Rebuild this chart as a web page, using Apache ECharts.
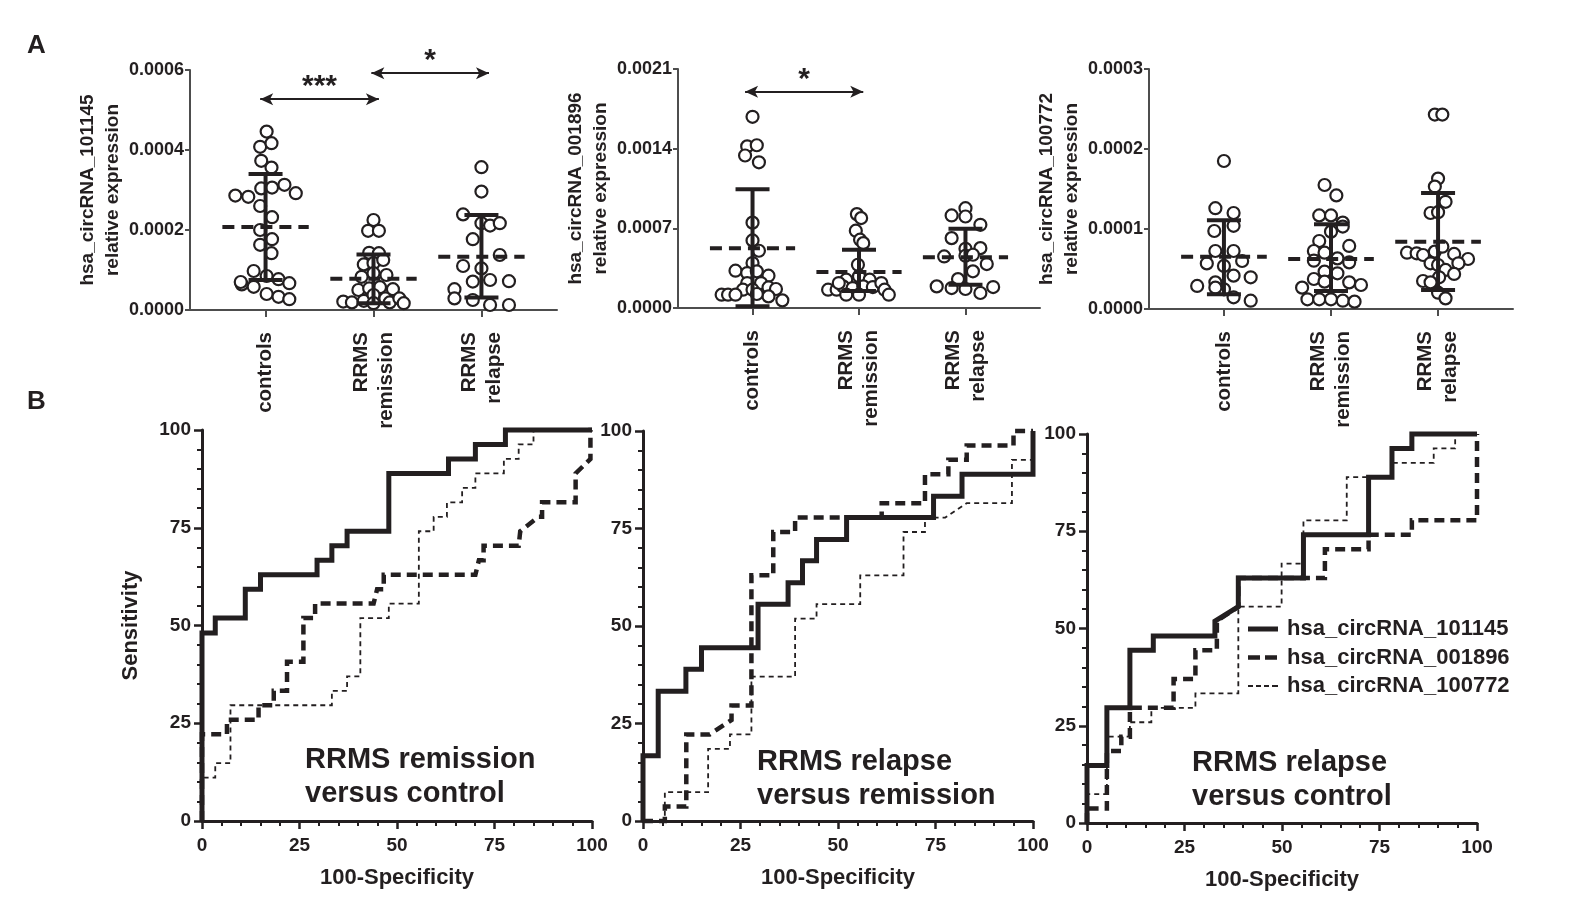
<!DOCTYPE html>
<html>
<head>
<meta charset="utf-8">
<script src="https://cdn.jsdelivr.net/npm/echarts@6/dist/echarts.min.js"></script>
<style>
  html, body { margin: 0; padding: 0; background: #fff; }
  #chart { width: 1594px; height: 897px; }
</style>
</head>
<body>
<div id="chart"></div>
<script>
// ---- data ----
const groupLabels = ['controls', 'RRMS\nremission', 'RRMS\nrelapse'];
const circNames = ['hsa_circRNA_101145', 'hsa_circRNA_001896', 'hsa_circRNA_100772'];

// scatter points: [jitter around the group, relative expression]
const c101145Controls = [[0.01,0.000446],[-0.05,0.000408],[0.055,0.000417],[-0.04,0.000373],[0.055,0.000356],
  [-0.28,0.000286],[-0.16,0.000283],[-0.04,0.000304],[0.06,0.000306],[0.175,0.000313],[0.28,0.000292],
  [-0.05,0.00026],[0.06,0.000232],[-0.05,0.0002],[0.06,0.000177],[-0.05,0.000163],[0.055,0.000142],
  [-0.11,0.0000975],[0.01,0.000085],[-0.22,0.000064],[-0.23,0.00007],[-0.11,0.000058],[0.12,0.000077],
  [0.22,0.000067],[0.01,0.00004],[0.12,0.000033],[0.22,0.000027]];
const c101145Remission = [[0,0.000225],[-0.05,0.000198],[0.05,0.000198],[-0.04,0.000143],[0.05,0.000142],
  [-0.09,0.000114],[0,0.000117],[0.09,0.000125],[-0.11,0.000083],[0,0.000092],[0.12,0.0000875],
  [-0.14,0.00005],[-0.04,0.000054],[0.06,0.000057],[0.18,0.000052],[-0.28,0.000021],[-0.2,0.000019],
  [-0.09,0.000023],[0,0.0000375],[0.11,0.000029],[0.15,0.000019],[0.24,0.000029],[0.28,0.000017],[0,0.000017]];
const c101145Relapse = [[0,0.000357],[0,0.000296],[-0.17,0.000239],[0,0.000217],[0.08,0.000211],[0.17,0.000217],
  [-0.08,0.000177],[0.17,0.0001375],[-0.17,0.00011],[0,0.000104],[-0.08,0.000071],[0.08,0.000075],
  [0.255,0.000072],[-0.25,0.000052],[-0.25,0.000029],[-0.08,0.000025],[0.08,0.0000125],[0.255,0.0000125]];

const c001896Controls = [[0,0.00168],[-0.05,0.00142],[0.04,0.00143],[-0.07,0.00134],[0.06,0.00128],[0,0.00075],
  [0,0.000594],[0.06,0.000503],[0,0.000395],[-0.16,0.000328],[-0.05,0.000307],[0.04,0.000322],[0.15,0.000284],
  [-0.05,0.000219],[0.08,0.000219],[-0.09,0.000161],[-0.29,0.000117],[-0.23,0.000117],[-0.16,0.000117],
  [0,0.000161],[0.15,0.000181],[0.22,0.000167],[0.15,0.000102],[0.28,0.000067],[0.04,0.000123]];
const c001896Remission = [[-0.02,0.000825],[0.02,0.00079],[-0.03,0.000679],[0.01,0.0006],[0.04,0.00057],
  [-0.01,0.00038],[-0.12,0.000249],[0,0.000278],[0.1,0.000249],[-0.29,0.000161],[-0.21,0.000161],
  [-0.15,0.00019],[-0.06,0.000175],[0.04,0.00019],[0.13,0.000184],[0.21,0.000219],[0.24,0.000161],
  [0.28,0.000117],[-0.19,0.000219],[-0.12,0.000117],[0,0.000117]];
const c001896Relapse = [[-0.13,0.000813],[0,0.000877],[0,0.000804],[0.14,0.000731],[-0.13,0.000614],[0,0.00052],
  [-0.2,0.000453],[0,0.000459],[0.14,0.000526],[0.07,0.000468],[0.2,0.000386],[0.07,0.000322],[-0.07,0.000254],
  [-0.27,0.00019],[-0.13,0.000175],[0,0.000167],[0.14,0.000132],[0.26,0.000184]];

const c100772Controls = [[0,0.000185],[-0.08,0.000126],[0.09,0.00012],[-0.09,0.0000975],[0.09,0.000104],
  [-0.08,0.0000725],[0.09,0.0000725],[-0.16,0.000057],[0,0.0000538],[0.17,0.00006],[0.09,0.0000417],
  [0.25,0.0000396],[-0.25,0.0000288],[-0.08,0.0000333],[0,0.0000246],[0.09,0.0000146],[0.25,0.0000104],
  [-0.08,0.0000267]];
const c100772Remission = [[-0.06,0.000155],[0.05,0.000142],[-0.11,0.000117],[0,0.000117],[0.11,0.000108],
  [0.11,0.000103],[0,0.0000967],[-0.11,0.000085],[0.17,0.0000788],[-0.16,0.0000725],[-0.06,0.0000704],
  [0.06,0.0000633],[0.17,0.0000583],[-0.16,0.0000604],[-0.06,0.0000467],[0.06,0.0000446],[-0.16,0.0000375],
  [-0.06,0.0000342],[0.17,0.0000333],[0.28,0.00003],[-0.27,0.0000267],[-0.22,0.0000121],[-0.11,0.0000121],
  [0,0.0000121],[0.11,0.0000104],[0.22,0.0000092]];
const c100772Relapse = [[-0.03,0.000243],[0.04,0.000243],[0,0.000163],[-0.03,0.000153],[0.07,0.000134],
  [-0.07,0.00012],[0,0.000121],[-0.29,0.0000704],[-0.2,0.0000696],[-0.14,0.0000675],[-0.03,0.0000717],
  [0.04,0.0000779],[0.15,0.0000688],[0.28,0.0000625],[-0.07,0.0000571],[0,0.000055],[0.07,0.0000488],
  [0.19,0.0000571],[0.15,0.0000438],[0.01,0.0000396],[-0.14,0.000035],[-0.07,0.0000333],[0,0.0000204],
  [0.07,0.0000133]];

// mean, mean-SD, mean+SD per group
const stats101145 = [[0.0002075,0.000075,0.00034],[0.000078,0.000017,0.000139],[0.000133,0.000031,0.0002375]];
const stats001896 = [[0.000526,0.000015,0.001044],[0.000316,0.00015,0.000512],[0.000447,0.000205,0.000696]];
const stats100772 = [[0.0000654,0.0000183,0.000111],[0.0000625,0.0000225,0.000106],[0.0000842,0.0000238,0.000145]];

// axis tops / tick steps of panel A
const topMax = [0.0006, 0.0021, 0.0003];
const topStep = [0.0002, 0.0007, 0.0001];

// ROC curves: [100-specificity, sensitivity]
const remCtl101145 = [[0,0],[0,48.1],[3.4,48.1],[3.4,51.9],[11.1,51.9],[11.1,59.3],[15,59.3],[15,63],[29.5,63],
  [29.5,66.7],[33.3,66.7],[33.3,70.4],[37.2,70.4],[37.2,74.1],[47.9,74.1],[47.9,88.9],[63.2,88.9],[63.2,92.6],
  [70.1,92.6],[70.1,96.3],[77.8,96.3],[77.8,100],[100,100]];
const remCtl001896 = [[0,0],[0,22.2],[6.4,22.2],[6.4,25.9],[14.5,25.9],[14.5,29.6],[18.4,29.6],[18.4,33.3],
  [21.8,33.3],[21.8,40.7],[26,40.7],[26,51.9],[29,51.9],[29,55.6],[44,55.6],[44.9,59.3],[46.6,59.3],[46.6,63],
  [70.1,63],[71,66.7],[72.2,66.7],[72.2,70.4],[81.2,70.4],[81.6,74.1],[86.3,77.8],[87.2,77.8],[87.2,81.5],
  [95.8,81.5],[95.8,88.9],[99.6,92.6],[99.6,100],[100,100]];
const remCtl100772 = [[0,0],[0,11.1],[3.4,11.1],[3.4,14.8],[7.3,14.8],[7.3,29.6],[33.3,29.6],[33.3,33.3],
  [37.2,33.3],[37.2,37],[40.6,37],[40.6,51.9],[47.9,51.9],[47.9,55.6],[55.6,55.6],[55.6,74.1],[59.4,74.1],
  [59.4,77.8],[62.8,77.8],[62.8,81.5],[66.7,81.5],[66.7,85.2],[70.1,85.2],[70.1,88.9],[77.4,88.9],[77.4,92.6],
  [81.2,92.6],[81.2,96.3],[85,96.3],[85,100],[100,100]];

const relRem101145 = [[0,0],[0,16.7],[3.9,16.7],[3.9,33.3],[11,33.3],[11,38.9],[15,38.9],[15,44.4],[29.5,44.4],
  [29.5,55.6],[37.2,55.6],[37.2,61.1],[40.9,61.1],[40.9,66.7],[44.5,66.7],[44.5,72.2],[52.2,72.2],[52.2,77.8],
  [74.5,77.8],[74.5,83.3],[81.8,83.3],[81.8,88.9],[100,88.9],[100,100]];
const relRem001896 = [[0,0],[5.6,0],[5.6,3.7],[11.1,3.7],[11.1,22.2],[17.1,22.2],[22.7,25.9],[22.7,29.6],
  [27.8,29.6],[27.8,63],[33.4,63],[33.4,74.1],[39,74.1],[39,77.8],[61.2,77.8],[61.2,81.5],[72.3,81.5],
  [72.3,88.9],[78.3,88.9],[78.3,92.6],[83,92.6],[83,96.3],[95,96.3],[95,100],[100,100]];
const relRem100772 = [[0,0],[5.6,0],[5.6,7.4],[16.7,7.4],[16.7,18.5],[22.3,18.5],[22.3,22.2],[27.8,22.2],
  [27.8,37],[39,37],[39,51.9],[44.5,51.9],[44.5,55.6],[55.7,55.6],[55.7,63],[66.8,63],[66.8,74.1],[72.3,74.1],
  [72.3,77.8],[77.5,77.8],[83,81.5],[94.6,81.5],[94.6,92.6],[100,92.6],[100,100]];

const relCtl101145 = [[0,0],[0,14.8],[5.1,14.8],[5.1,29.6],[11,29.6],[11,44.4],[17,44.4],[17,48.1],[32.8,48.1],
  [32.8,51.9],[38.8,55.6],[38.8,63],[55.5,63],[55.5,74.1],[72.2,74.1],[72.2,88.9],[78.2,88.9],[78.2,96.3],
  [83.3,96.3],[83.3,100],[100,100]];
const relCtl001896 = [[0,0],[0,3.7],[5.1,3.7],[5.1,18.5],[8.8,18.5],[8.8,22.2],[11,22.2],[11,29.6],[22.2,29.6],
  [22.2,37],[27.8,37],[27.8,44.4],[33.3,44.4],[33.3,51.9],[38.8,55.6],[38.8,63],[61,63],[61,70.4],[72.2,70.4],
  [72.2,74.1],[83.3,74.1],[83.3,77.8],[100,77.8],[100,100]];
const relCtl100772 = [[0,0],[0,7.4],[5.1,7.4],[5.1,22.2],[11,22.2],[11,25.9],[16.5,25.9],[16.5,29.6],[27.8,29.6],
  [27.8,33.3],[38.8,33.3],[38.8,55.6],[49.9,55.6],[49.9,66.7],[55.5,66.7],[55.5,77.8],[66.6,77.8],[66.6,88.9],
  [78.2,88.9],[78.2,92.6],[88.9,92.6],[88.9,96.3],[94.4,96.3],[94.4,100],[100,100]];

const panelTitles = ['RRMS remission\nversus control', 'RRMS relapse\nversus remission', 'RRMS relapse\nversus control'];

// ---- styling ----
const ink = '#231f20';
const font = "'Liberation Sans', Arial, sans-serif";

const topGrids = [
  { left: 190, top: 70, width: 367, height: 240 },
  { left: 678, top: 69, width: 362, height: 239 },
  { left: 1149, top: 69, width: 364, height: 240 }
];
const bottomGrids = [
  { left: 202, top: 430, width: 390, height: 391 },
  { left: 643, top: 431, width: 390, height: 390 },
  { left: 1087, top: 434, width: 390, height: 389 }
];

const scatterSets = [
  [c101145Controls, c101145Remission, c101145Relapse],
  [c001896Controls, c001896Remission, c001896Relapse],
  [c100772Controls, c100772Remission, c100772Relapse]
];
const statSets = [stats101145, stats001896, stats100772];
const rocSets = [
  [remCtl101145, remCtl001896, remCtl100772],
  [relRem101145, relRem001896, relRem100772],
  [relCtl101145, relCtl001896, relCtl100772]
];
const rocStyles = [
  { width: 5, type: 'solid' },
  { width: 4.5, type: [10, 6] },
  { width: 1.8, type: [5, 4] }
];
// legend keys drawn as filled paths (30 x 12 box, corner specks fix the box)
const box = 'M0,0h0.01v0.01z M29.99,11.99h0.01v0.01z ';
const legendIcons = [
  'path://' + box + 'M0,3.5h30v5h-30z',
  'path://' + box + 'M0,3.75h12v4.5h-12z M17,3.75h12v4.5h-12z',
  'path://' + box + 'M0,5h5v2h-5z M8,5h5v2h-5z M16,5h5v2h-5z M24,5h6v2h-6z'
];

// significance arrows in panel A: [panel, from, to, height, label]
const sigBars = [
  [0, 0.95, 2.05, 0.000527, '***'],
  [0, 1.98, 3.07, 0.000592, '*'],
  [1, 0.93, 2.04, 0.0019, '*']
];

const grid = [];
const xAxis = [];
const yAxis = [];
const series = [];

topGrids.forEach((g, i) => {
  grid.push(g);
  xAxis.push({
    type: 'value', gridIndex: i, min: 0.3, max: 3.7,
    axisLine: { show: true, lineStyle: { color: '#4d4d4d', width: 2 } },
    axisTick: { show: true, customValues: [1, 2, 3], length: 7, lineStyle: { color: '#4d4d4d', width: 2 } },
    axisLabel: {
      customValues: [1, 2, 3], rotate: 90, margin: 22,
      formatter: v => groupLabels[Math.round(v) - 1],
      color: ink, fontFamily: font, fontWeight: 'bold', fontSize: 20.5, lineHeight: 25
    },
    splitLine: { show: false }
  });
  yAxis.push({
    type: 'value', gridIndex: i, min: 0, max: topMax[i], interval: topStep[i],
    name: circNames[i] + '\nrelative expression',
    nameLocation: 'middle', nameRotate: 90, nameGap: 63,
    nameTextStyle: { color: ink, fontFamily: font, fontWeight: 'bold', fontSize: 19, lineHeight: 25 },
    axisLine: { show: true, lineStyle: { color: '#4d4d4d', width: 2 } },
    axisTick: { show: true, length: 5, lineStyle: { color: '#4d4d4d', width: 2 } },
    axisLabel: {
      margin: 6, formatter: v => v.toFixed(4),
      color: ink, fontFamily: font, fontWeight: 'bold', fontSize: 18
    },
    splitLine: { show: false }
  });

  scatterSets[i].forEach((pts, k) => {
    const s = {
      type: 'scatter', xAxisIndex: i, yAxisIndex: i, clip: false, z: 3,
      symbol: 'circle', symbolSize: 12,
      itemStyle: { color: '#fff', borderColor: ink, borderWidth: 2.2, opacity: 1 },
      data: pts.map(p => [k + 1 + p[0], p[1]])
    };
    if (k === 0) {
      const bars = sigBars.filter(b => b[0] === i);
      if (bars.length) {
        s.markLine = {
          silent: true, symbol: ['arrow', 'arrow'], symbolSize: [9, 13],
          lineStyle: { color: ink, width: 2, type: 'solid' },
          label: { show: true, position: 'middle', formatter: '{b}', distance: -3,
            color: ink, fontFamily: font, fontWeight: 'bold', fontSize: 30 },
          data: bars.map(b => [{ coord: [b[1], b[3]], name: b[4] }, { coord: [b[2], b[3]] }])
        };
      }
    }
    series.push(s);
  });

  // mean (dashed) with SD whiskers
  series.push({
    type: 'custom', xAxisIndex: i, yAxisIndex: i, z: 5, clip: false,
    data: statSets[i].map((st, k) => [k + 1, st[0], st[1], st[2]]),
    encode: { x: 0, y: 1 },
    renderItem: (params, api) => {
      const x = api.value(0);
      const pm = api.coord([x, api.value(1)]);
      const pLo = api.coord([x, api.value(2)]);
      const pHi = api.coord([x, api.value(3)]);
      const pL = api.coord([x - 0.4, api.value(1)]);
      const pR = api.coord([x + 0.4, api.value(1)]);
      const cap = 17;
      const st = { stroke: ink, lineWidth: 4 };
      return {
        type: 'group',
        children: [
          { type: 'line', shape: { x1: pLo[0], y1: pLo[1], x2: pHi[0], y2: pHi[1] }, style: st },
          { type: 'line', shape: { x1: pLo[0] - cap, y1: pLo[1], x2: pLo[0] + cap, y2: pLo[1] }, style: st },
          { type: 'line', shape: { x1: pHi[0] - cap, y1: pHi[1], x2: pHi[0] + cap, y2: pHi[1] }, style: st },
          { type: 'line', shape: { x1: pL[0], y1: pm[1], x2: pR[0], y2: pm[1] },
            style: { stroke: ink, lineWidth: 4, lineDash: [12, 7] } }
        ]
      };
    }
  });
});

bottomGrids.forEach((g, j) => {
  const i = j + 3;
  grid.push(g);
  const axisCommon = {
    type: 'value', gridIndex: i, min: 0, max: 100, interval: 25,
    axisLine: { show: true, lineStyle: { color: ink, width: 3 } },
    axisTick: { show: true, length: 8, lineStyle: { color: ink, width: 2.5 } },
    minorTick: { show: true, splitNumber: 5, length: 5, lineStyle: { color: ink, width: 2 } },
    axisLabel: { color: ink, fontFamily: font, fontWeight: 'bold', fontSize: 19 },
    splitLine: { show: false }
  };
  xAxis.push(Object.assign({}, axisCommon, {
    axisLabel: Object.assign({}, axisCommon.axisLabel, { margin: 15 }),
    name: '100-Specificity', nameLocation: 'middle', nameGap: 46,
    nameTextStyle: { color: ink, fontFamily: font, fontWeight: 'bold', fontSize: 22 }
  }));
  yAxis.push(Object.assign({}, axisCommon, {
    axisLabel: Object.assign({}, axisCommon.axisLabel, { margin: 11 }),
    name: j === 0 ? 'Sensitivity' : '', nameLocation: 'middle', nameRotate: 90, nameGap: 60,
    nameTextStyle: { color: ink, fontFamily: font, fontWeight: 'bold', fontSize: 22 }
  }));

  // draw thinnest first so the solid curve sits on top
  [2, 1, 0].forEach(c => {
    series.push({
      type: 'line', name: circNames[c], xAxisIndex: i, yAxisIndex: i,
      data: rocSets[j][c], symbol: 'none', showSymbol: false, clip: false,
      z: 3 + (2 - c),
      lineStyle: { color: ink, width: rocStyles[c].width, type: rocStyles[c].type, cap: 'butt', join: 'miter' },
      itemStyle: { color: ink }
    });
  });
});

const titles = [
  { text: 'A', left: 27, top: 33 },
  { text: 'B', left: 27, top: 389 }
].map(t => Object.assign(t, { padding: 0,
  textStyle: { color: ink, fontFamily: font, fontWeight: 'bold', fontSize: 26 } }));

const panelPos = [[305, 743], [757, 745], [1192, 746]];
panelTitles.forEach((txt, j) => {
  titles.push({
    text: txt, left: panelPos[j][0], top: panelPos[j][1], padding: 0,
    textStyle: { color: ink, fontFamily: font, fontWeight: 'bold', fontSize: 29, lineHeight: 34 }
  });
});

const chart = echarts.init(document.getElementById('chart'), null, { renderer: 'canvas' });
chart.setOption({
  backgroundColor: '#fff',
  animation: false,
  title: titles,
  legend: {
    data: circNames.map((n, c) => ({ name: n, icon: legendIcons[c], itemStyle: { color: ink, borderWidth: 0 } })),
    orient: 'vertical', left: 1248, top: 618,
    itemWidth: 30, itemHeight: 12, itemGap: 6.5, padding: 0,
    selectedMode: false,
    textStyle: { color: ink, fontFamily: font, fontWeight: 'bold', fontSize: 22, lineHeight: 22, padding: [0, 0, 0, 4] }
  },
  grid: grid,
  xAxis: xAxis,
  yAxis: yAxis,
  series: series
});
</script>
</body>
</html>
